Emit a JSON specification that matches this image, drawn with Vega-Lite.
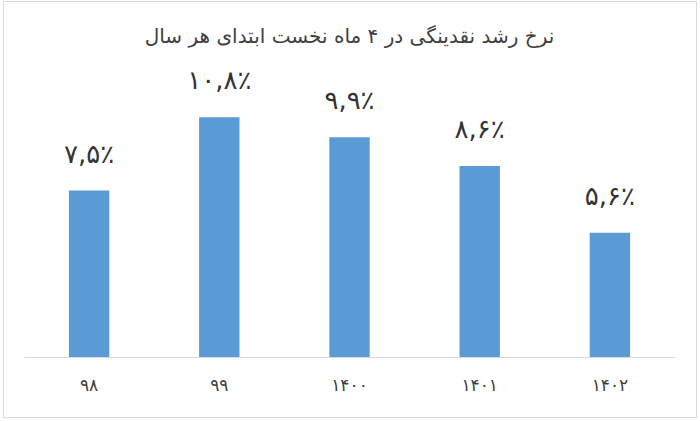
{
  "$schema": "https://vega.github.io/schema/vega-lite/v6.json",
  "autosize": "none",
  "width": 693,
  "height": 416,
  "padding": {"left": 3, "top": 1, "right": 4, "bottom": 4},
  "background": "white",
  "title": {
    "text": "نرخ رشد نقدینگی در ۴ ماه نخست ابتدای هر سال",
    "font": "DejaVu Sans",
    "fontSize": 20,
    "fontWeight": "normal",
    "color": "#404040",
    "anchor": "middle",
    "baseline": "middle",
    "offset": -56
  },
  "data": {
    "values": [
      {"year": "۹۸", "rate": 7.5, "label": "۷,۵٪"},
      {"year": "۹۹", "rate": 10.8, "label": "۱۰,۸٪"},
      {"year": "۱۴۰۰", "rate": 9.9, "label": "۹,۹٪"},
      {"year": "۱۴۰۱", "rate": 8.6, "label": "۸,۶٪"},
      {"year": "۱۴۰۲", "rate": 5.6, "label": "۵,۶٪"}
    ]
  },
  "encoding": {
    "x": {
      "field": "year",
      "type": "nominal",
      "sort": null,
      "scale": {"range": [21, 672], "paddingInner": 0.69, "paddingOuter": 0.345},
      "axis": {
        "title": null,
        "orient": "bottom",
        "offset": -60,
        "labelAngle": 0,
        "ticks": false,
        "domainColor": "#d9d9d9",
        "domainWidth": 1,
        "labelFont": "DejaVu Sans",
        "labelFontSize": 17,
        "labelColor": "#404040",
        "labelPadding": 20
      }
    },
    "y": {
      "field": "rate",
      "type": "quantitative",
      "scale": {"domain": [0, 12], "range": [356, 89.6]},
      "axis": null
    }
  },
  "layer": [
    {"mark": {"type": "bar", "color": "#5b9bd5"}},
    {
      "mark": {
        "type": "text",
        "baseline": "bottom",
        "dy": -23,
        "font": "DejaVu Sans",
        "fontSize": 26,
        "color": "#333333"
      },
      "encoding": {"text": {"field": "label"}}
    }
  ],
  "config": {
    "view": {"stroke": "#d9d9d9", "strokeWidth": 1},
    "axis": {"grid": false}
  }
}
